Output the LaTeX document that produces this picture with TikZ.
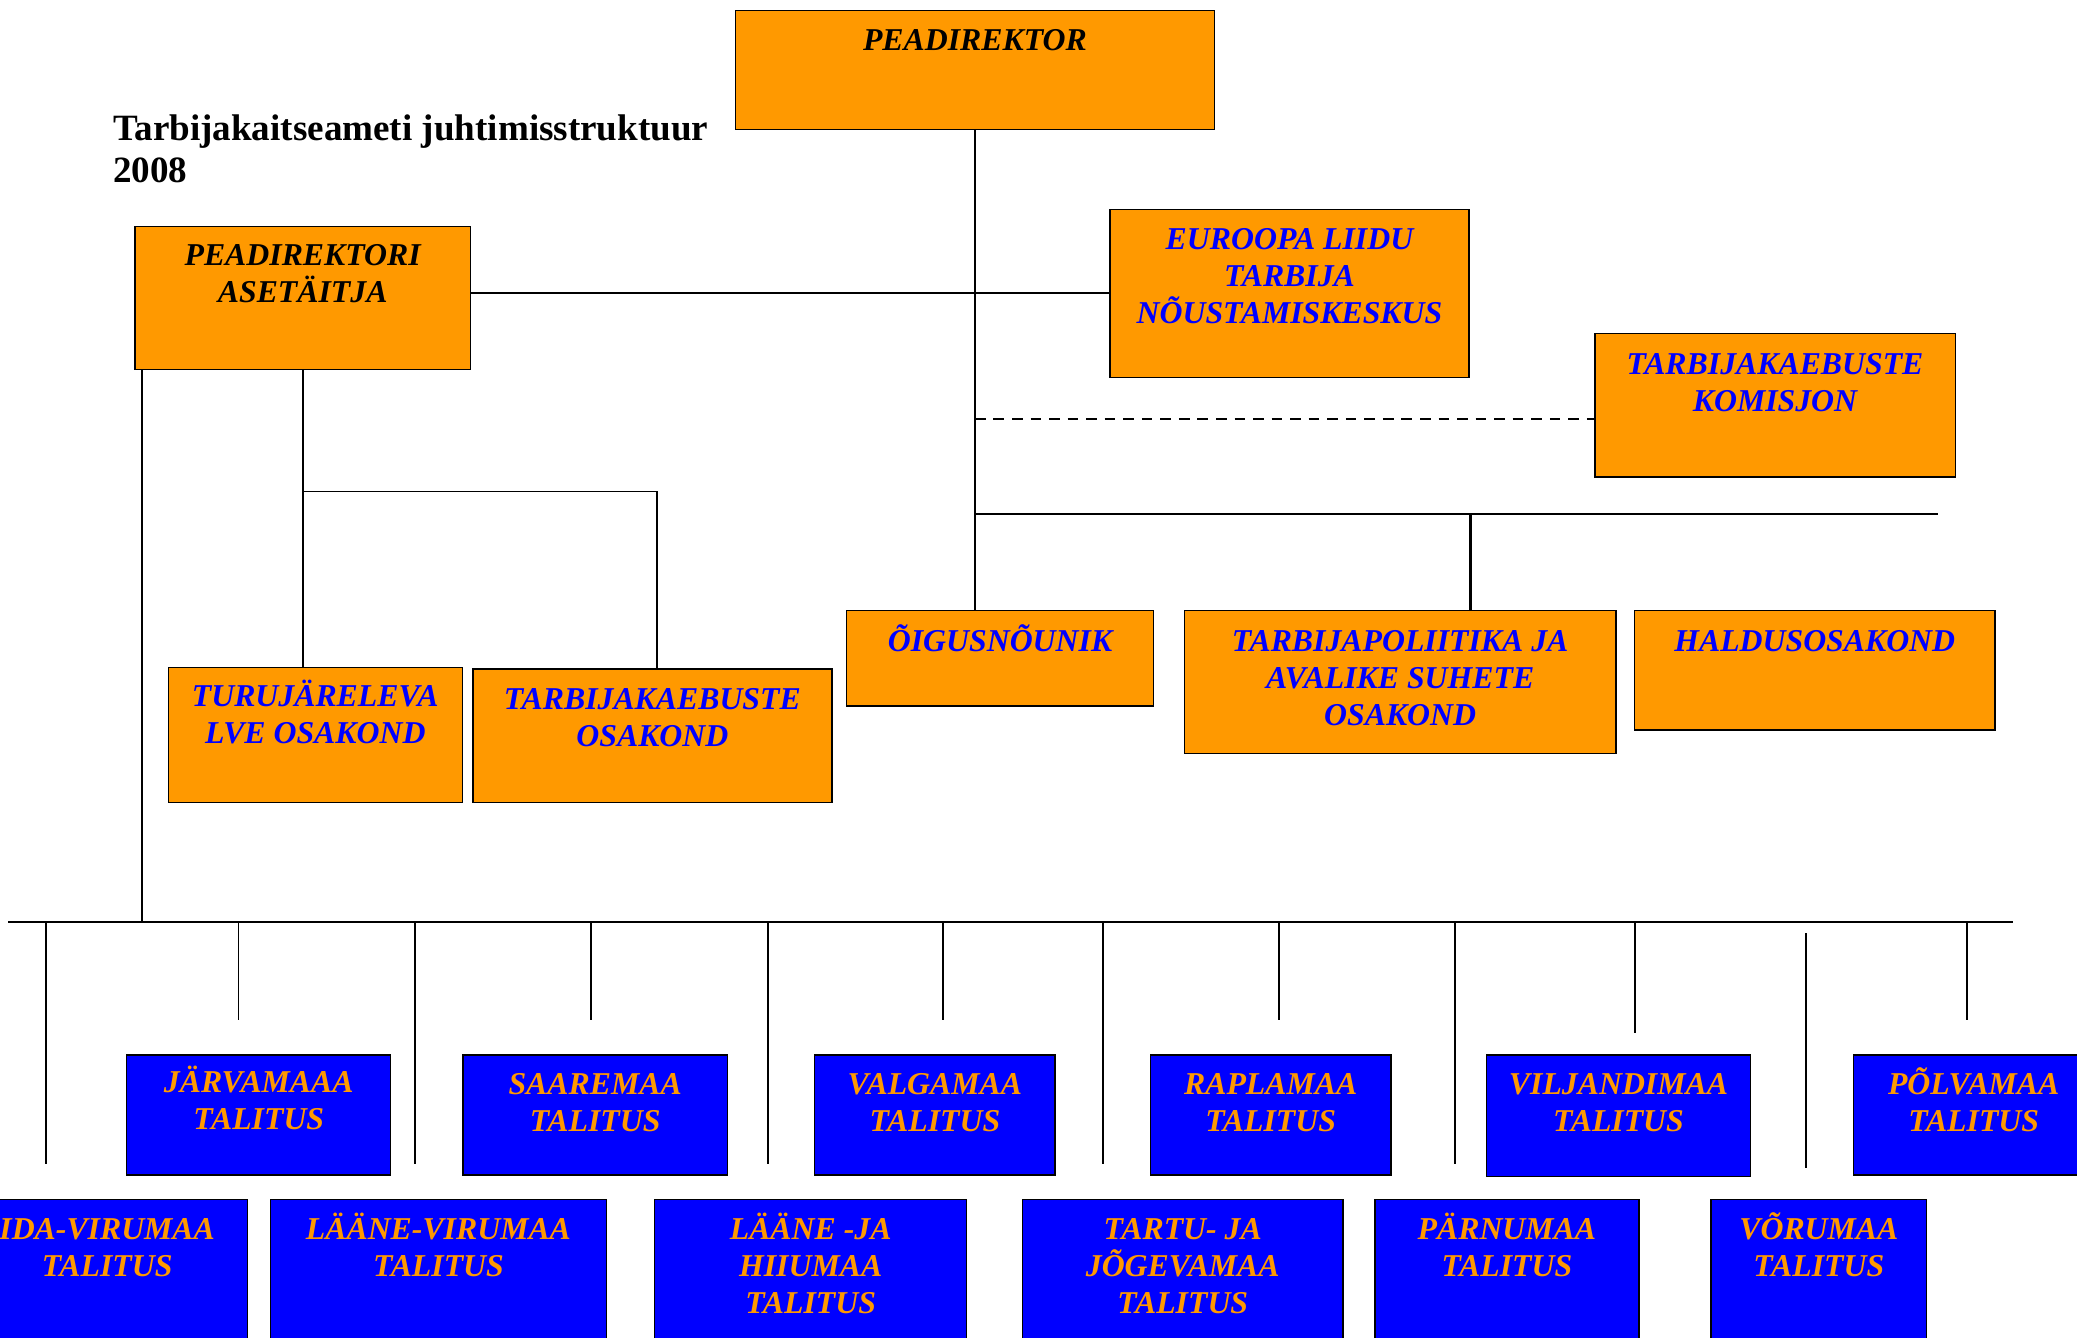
\documentclass[tikz,border=0pt]{standalone}
\usepackage{fontspec}
\setmainfont{Liberation Serif}
\usetikzlibrary{fit,calc}
\definecolor{org}{RGB}{255,153,0}
\definecolor{blu}{RGB}{0,0,255}
\begin{document}
\begin{tikzpicture}[x=0.5pt,y=-0.5pt,
  obox/.style={draw=black, line width=0.5pt, fill=org, inner sep=0pt},
  bbox/.style={draw=black, line width=0.5pt, fill=blu, inner sep=0pt},
  lbl/.style={font=\fontsize{12}{14}\selectfont\bfseries\itshape, align=center, anchor=base, inner sep=0pt},
  conn/.style={line width=0.7pt, line cap=rect}]
\useasboundingbox (0,0) rectangle (1568,1010);

% title
\node[font=\fontsize{14}{16}\selectfont\bfseries, align=left, anchor=base west, inner sep=0pt] (title) at (85,138) {Tarbijakaitseameti juhtimisstruktuur\\2008};

% orange boxes
\node[obox, fit={(555,8) (917,98)}] (pd) {};
\node[obox, fit={(102,171) (355,279)}] (as) {};
\node[obox, fit={(838,158) (1109,285)}] (eu) {};
\node[obox, fit={(1204,252) (1476,360)}] (kom) {};
\node[obox, fit={(639,461) (871,533)}] (oig) {};
\node[obox, fit={(894,461) (1220,569)}] (tp) {};
\node[obox, fit={(1234,461) (1506,551)}] (hal) {};
\node[obox, fit={(127,504) (349,606)}] (tu) {};
\node[obox, fit={(357,505) (628,606)}] (tk) {};

% blue boxes, top row
\node[bbox, fit={(95.7,796.5) (295,887)}] (jar) {};
\node[bbox, fit={(349.6,796.5) (549,887)}] (saa) {};
\node[bbox, fit={(615,796.5) (796.5,887)}] (val) {};
\node[bbox, fit={(868.5,796.5) (1050,887)}] (rap) {};
\node[bbox, fit={(1122,796.5) (1321.7,888)}] (vil) {};
\node[bbox, fit={(1399.5,796.5) (1580.5,887)}] (pol) {};
% blue boxes, bottom row
\node[bbox, fit={(-25,905.3) (186.8,1030)}] (ida) {};
\node[bbox, fit={(204.3,905.3) (457.7,1030)}] (lvi) {};
\node[bbox, fit={(494.3,905.3) (729.7,1030)}] (lhi) {};
\node[bbox, fit={(772,905.3) (1013.8,1030)}] (tar) {};
\node[bbox, fit={(1038,905.3) (1237.2,1030)}] (par) {};
\node[bbox, fit={(1291.7,905.3) (1454.5,1030)}] (vor) {};

% labels (anchor = baseline of the last line)
\node[lbl, text=black] (pdt) at ($(pd.north)+(0,31)$) {PEADIREKTOR};
\node[lbl, text=black] (ast) at ($(as.north)+(0,58)$) {PEADIREKTORI\\ASETÄITJA};
\node[lbl, text=blu] (eut) at ($(eu.north)+(0,87)$) {EUROOPA LIIDU\\TARBIJA\\NÕUSTAMISKESKUS};
\node[lbl, text=blu] (komt) at ($(kom.north)+(0,59)$) {TARBIJAKAEBUSTE\\KOMISJON};
\node[lbl, text=blu] (oigt) at ($(oig.north)+(0,31)$) {ÕIGUSNÕUNIK};
\node[lbl, text=blu] (tpt) at ($(tp.north)+(0,87)$) {TARBIJAPOLIITIKA JA\\AVALIKE SUHETE\\OSAKOND};
\node[lbl, text=blu] (halt) at ($(hal.north)+(0,31)$) {HALDUSOSAKOND};
\node[lbl, text=blu] (tut) at ($(tu.north)+(0,58)$) {TURUJÄRELEVA\\LVE OSAKOND};
\node[lbl, text=blu] (tkt) at ($(tk.north)+(0,59)$) {TARBIJAKAEBUSTE\\OSAKOND};

\node[lbl, text=org] (jart) at ($(jar.north)+(0,57)$) {JÄRVAMAAA\\TALITUS};
\node[lbl, text=org] (saat) at ($(saa.north)+(0,58)$) {SAAREMAA\\TALITUS};
\node[lbl, text=org] (valt) at ($(val.north)+(0,58)$) {VALGAMAA\\TALITUS};
\node[lbl, text=org] (rapt) at ($(rap.north)+(0,58)$) {RAPLAMAA\\TALITUS};
\node[lbl, text=org] (vilt) at ($(vil.north)+(0,58)$) {VILJANDIMAA\\TALITUS};
\node[lbl, text=org] (polt) at ($(pol.north)+(0,58)$) {PÕLVAMAA\\TALITUS};
\node[lbl, text=org] (idat) at ($(ida.north)+(0,59)$) {IDA-VIRUMAA\\TALITUS};
\node[lbl, text=org] (lvit) at ($(lvi.north)+(0,59)$) {LÄÄNE-VIRUMAA\\TALITUS};
\node[lbl, text=org] (lhit) at ($(lhi.north)+(0,87)$) {LÄÄNE -JA\\HIIUMAA\\TALITUS};
\node[lbl, text=org] (tart) at ($(tar.north)+(0,87)$) {TARTU- JA\\JÕGEVAMAA\\TALITUS};
\node[lbl, text=org] (part) at ($(par.north)+(0,59)$) {PÄRNUMAA\\TALITUS};
\node[lbl, text=org] (vort) at ($(vor.north)+(0,59)$) {VÕRUMAA\\TALITUS};

% helper coordinates
\coordinate (dashL) at (736,316);
\coordinate (busR) at (1462,388);
\coordinate (tpc) at (1110,388);
\coordinate (tkc) at (496,371);
\coordinate (bl) at (107,696);
\coordinate (busL) at (7,696);
\coordinate (busE) at (1519,696);

% connectors (upper part)
\draw[conn] (pd.south) -- (pd.south |- oig.north);
\draw[conn] (as.east |- eu.west) -- (eu.west);
\draw[conn, dashed, dash pattern=on 4pt off 3pt, line cap=butt] (dashL) -- (dashL -| kom.west);
\draw[conn] (pd.south |- busR) -- (busR);
\draw[line width=1.1pt] (tpc) -- (tpc |- tp.north);
\draw[conn] (as.south) -- (as.south |- tu.north);
\draw[conn] (as.south |- tkc) -- (tkc) -- (tkc |- tk.north);
\draw[conn] (bl |- as.south) -- (bl);
\draw[conn] (busL) -- (busE);

% drops to the regional offices
\foreach \n/\x/\y in {d1/35/878, d2/180/769, d3/313.5/878, d4/446/769, d5/711.6/769,
                      d6/579.5/878, d7/832.7/878, d8/965.5/769, d9/1098.2/878,
                      d10/1234.1/779, d11/1485.1/769}{
  \coordinate (\n) at (\x,\y);
  \draw[conn] (\n |- busL) -- (\n);
}
\coordinate (d12a) at (1363.7,705.4);
\coordinate (d12b) at (1363.7,880.7);
\draw[conn] (d12a) -- (d12b);
\end{tikzpicture}
\end{document}
